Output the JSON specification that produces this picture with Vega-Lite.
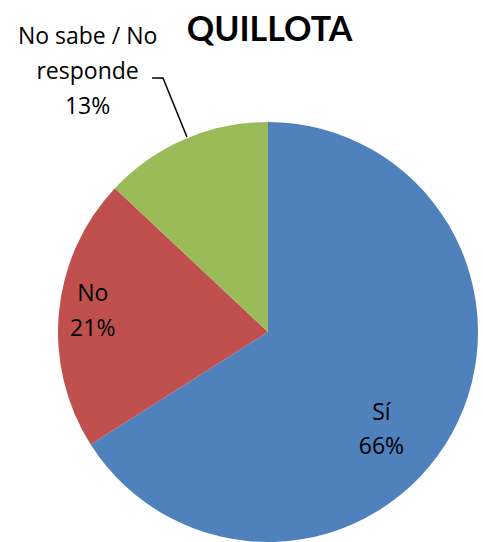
{
  "$schema": "https://vega.github.io/schema/vega-lite/v6.json",
  "width": 483,
  "height": 542,
  "padding": 0,
  "autosize": {"type": "none"},
  "background": "white",
  "config": {"view": {"stroke": null}},
  "title": {
    "text": "QUILLOTA",
    "font": "Lato",
    "fontSize": 34,
    "fontWeight": "bold",
    "color": "black",
    "anchor": "middle",
    "frame": "group",
    "orient": "top",
    "offset": -48,
    "dx": 28
  },
  "datasets": {
    "pie": [
      {"categoria": "Sí", "valor": 66, "orden": 1, "etiqueta": ["Sí", "66%"]},
      {"categoria": "No", "valor": 21, "orden": 2, "etiqueta": ["No", "21%"]},
      {"categoria": "No sabe / No responde", "valor": 13, "orden": 3, "etiqueta": ["No sabe / No", "responde", "13%"]}
    ],
    "guia": [
      {"px": -0.386, "py": 0.929, "paso": 1},
      {"px": -0.5, "py": 1.2095, "paso": 2},
      {"px": -0.552, "py": 1.2095, "paso": 3}
    ]
  },
  "layer": [
    {
      "data": {"name": "pie"},
      "mark": {"type": "arc", "outerRadius": 210, "x": 268, "y": 332, "stroke": null},
      "encoding": {
        "theta": {"field": "valor", "type": "quantitative", "stack": true},
        "order": {"field": "orden", "type": "quantitative"},
        "color": {
          "field": "categoria",
          "type": "nominal",
          "scale": {"domain": ["Sí", "No", "No sabe / No responde"], "range": ["#4F81BD", "#C0504D", "#9BBB59"]},
          "legend": null
        }
      }
    },
    {
      "data": {"name": "pie"},
      "mark": {"type": "text", "x": 268, "y": 332, "radius": 150, "dx": -18, "dy": 9, "font": "Open Sans", "fontSize": 23, "lineHeight": 34, "align": "center", "baseline": "middle", "color": "black"},
      "encoding": {
        "theta": {"field": "valor", "type": "quantitative", "stack": true},
        "order": {"field": "orden", "type": "quantitative"},
        "text": {"condition": {"test": "datum.categoria === 'Sí'", "field": "etiqueta"}, "value": ""}
      }
    },
    {
      "data": {"name": "pie"},
      "mark": {"type": "text", "x": 268, "y": 332, "radius": 176, "dx": 0, "dy": -21, "font": "Open Sans", "fontSize": 23, "lineHeight": 35, "align": "center", "baseline": "middle", "color": "black"},
      "encoding": {
        "theta": {"field": "valor", "type": "quantitative", "stack": true},
        "order": {"field": "orden", "type": "quantitative"},
        "text": {"condition": {"test": "datum.categoria === 'No'", "field": "etiqueta"}, "value": ""}
      }
    },
    {
      "data": {"name": "pie"},
      "mark": {"type": "text", "x": 268, "y": 332, "radius": 210, "dx": -97, "dy": -102, "font": "Open Sans", "fontSize": 23, "lineHeight": 35, "align": "center", "baseline": "middle", "color": "black"},
      "encoding": {
        "theta": {"field": "valor", "type": "quantitative", "stack": true},
        "order": {"field": "orden", "type": "quantitative"},
        "text": {"condition": {"test": "datum.categoria === 'No sabe / No responde'", "field": "etiqueta"}, "value": ""}
      }
    },
    {
      "data": {"name": "guia"},
      "mark": {"type": "line", "color": "black", "strokeWidth": 1.5, "interpolate": "linear"},
      "encoding": {
        "x": {"field": "px", "type": "quantitative", "scale": {"domain": [-1.27619, 1.02381], "nice": false, "zero": false}, "axis": null},
        "y": {"field": "py", "type": "quantitative", "scale": {"domain": [-1, 1.58095], "nice": false, "zero": false}, "axis": null},
        "order": {"field": "paso", "type": "quantitative"}
      }
    }
  ]
}
